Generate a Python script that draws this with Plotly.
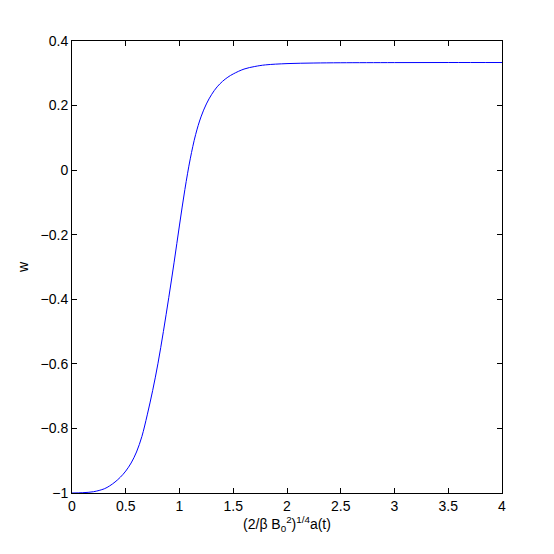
import plotly.graph_objects as go

# values
a_t = [0.0, 0.1, 0.2, 0.3, 0.35, 0.4, 0.45, 0.5, 0.55, 0.6, 0.65, 0.7, 0.75,
       0.8, 0.85, 0.9, 0.95, 1.0, 1.05, 1.1, 1.15, 1.2, 1.25, 1.3, 1.35, 1.4,
       1.45, 1.5, 1.6, 1.7, 1.8, 2.0, 2.25, 2.5, 3.0, 3.5, 4.0]
w = [-1.0, -0.999, -0.996, -0.987, -0.978, -0.966, -0.951, -0.932, -0.907,
     -0.873, -0.825, -0.758, -0.683, -0.598, -0.500, -0.395, -0.285, -0.170,
     -0.060, 0.035, 0.110, 0.165, 0.205, 0.235, 0.258, 0.275, 0.288, 0.298,
     0.313, 0.321, 0.326, 0.330, 0.3318, 0.3326, 0.3331, 0.3333, 0.3333]

x_ticks = [0, 0.5, 1, 1.5, 2, 2.5, 3, 3.5, 4]
y_ticks = [0.4, 0.2, 0, -0.2, -0.4, -0.6, -0.8, -1]

fig = go.Figure()
fig.add_trace(go.Scatter(x=a_t, y=w, mode="lines", line_shape="spline",
                         line=dict(color="#0000ff", width=1), showlegend=False))

axis_style = dict(showline=True, linecolor="black", linewidth=1, mirror="ticks",
                  ticks="inside", ticklen=5, tickcolor="black", showgrid=False,
                  zeroline=False, tickfont=dict(size=14, color="black"))

fig.update_xaxes(range=[0, 4], tickvals=x_ticks,
                 title=dict(text="(2/β B<sub>0</sub><sup>2</sup>)<sup>1/4</sup>a(t)",
                            font=dict(size=14, color="black"), standoff=5),
                 **axis_style)
fig.update_yaxes(range=[-1, 0.4], tickvals=y_ticks,
                 title=dict(text="w", font=dict(size=14, color="black"), standoff=8),
                 **axis_style)

fig.update_layout(width=554, height=554, plot_bgcolor="white", paper_bgcolor="white",
                  margin=dict(l=64, r=60, t=33, b=69),
                  font=dict(family="Liberation Sans, Arial, sans-serif"))

fig.write_html("out.html")
